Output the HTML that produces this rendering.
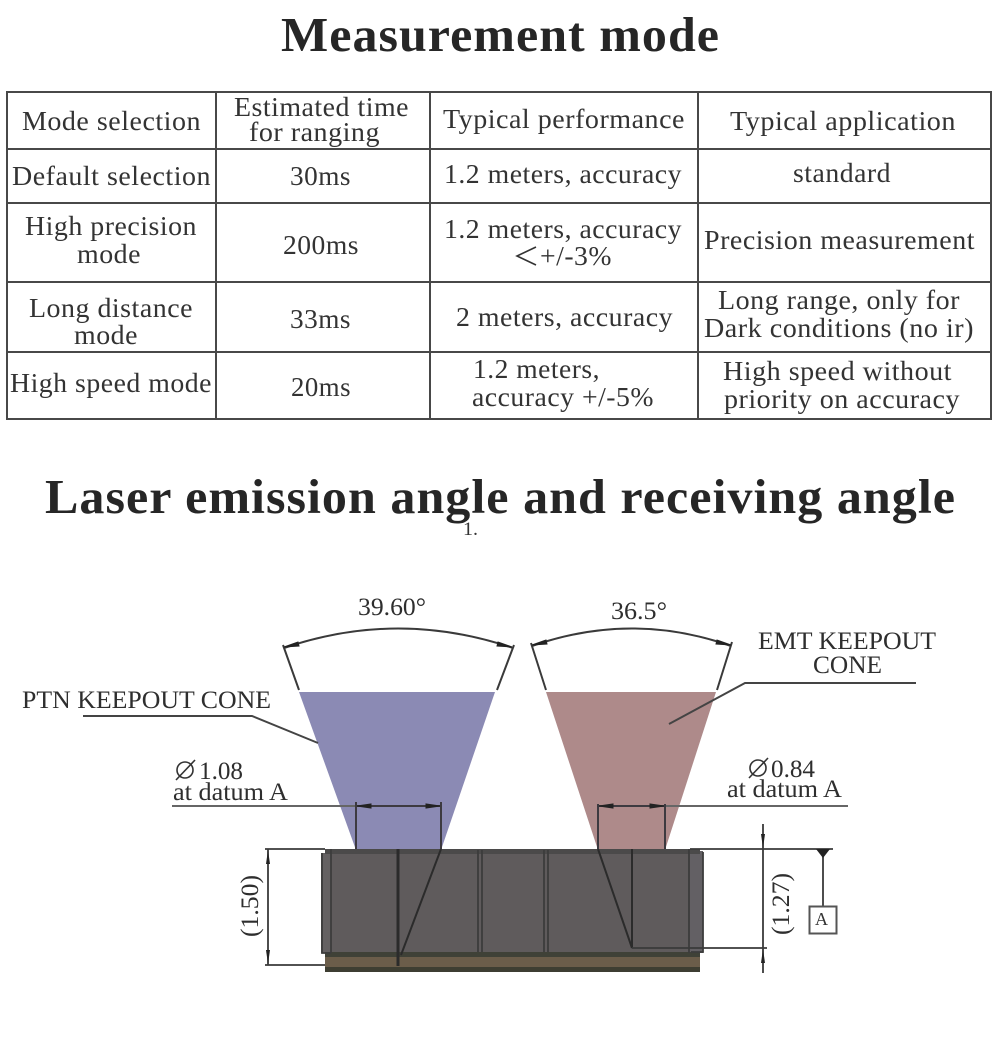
<!DOCTYPE html>
<html>
<head>
<meta charset="utf-8">
<style>
html,body{margin:0;padding:0;background:#fff}
svg{display:block}
text{font-family:"Liberation Serif",serif;fill:#333}
.t{font-size:27.5px;letter-spacing:.5px}
.d{font-size:25px;fill:#2e2e2e}
.h{font-size:49px;font-weight:bold;fill:#262626;letter-spacing:1px}
</style>
</head>
<body>
<svg width="1000" height="1041" viewBox="0 0 1000 1041" xmlns="http://www.w3.org/2000/svg">
<rect width="1000" height="1041" fill="#fff"/>
<text class="h" x="281" y="51" textLength="439" lengthAdjust="spacingAndGlyphs">Measurement mode</text>
<text class="h" x="45" y="513" textLength="911" lengthAdjust="spacingAndGlyphs">Laser emission angle and receiving angle</text>
<text x="463" y="535" style="font-size:19px" textLength="15" lengthAdjust="spacingAndGlyphs">1.</text>

<g stroke="#484848" stroke-width="2" fill="none">
<rect x="7" y="92" width="984" height="327"/>
<path d="M216 92V419M430 92V419M698 92V419M7 149H991M7 203H991M7 282H991M7 352H991"/>
</g>

<g class="tbl">
<text class="t" x="22" y="130" textLength="179" lengthAdjust="spacingAndGlyphs">Mode selection</text>
<text class="t" x="234" y="116" textLength="175" lengthAdjust="spacingAndGlyphs">Estimated time</text>
<text class="t" x="249" y="141" textLength="131" lengthAdjust="spacingAndGlyphs">for ranging</text>
<text class="t" x="443" y="128" textLength="242" lengthAdjust="spacingAndGlyphs">Typical performance</text>
<text class="t" x="730" y="130" textLength="226" lengthAdjust="spacingAndGlyphs">Typical application</text>

<text class="t" x="12" y="185" textLength="199" lengthAdjust="spacingAndGlyphs">Default selection</text>
<text class="t" x="290" y="185" textLength="61" lengthAdjust="spacingAndGlyphs">30ms</text>
<text class="t" x="444" y="183" textLength="238" lengthAdjust="spacingAndGlyphs">1.2 meters, accuracy</text>
<text class="t" x="793" y="182" textLength="98" lengthAdjust="spacingAndGlyphs">standard</text>

<text class="t" x="25" y="235" textLength="172" lengthAdjust="spacingAndGlyphs">High precision</text>
<text class="t" x="77" y="263" textLength="64" lengthAdjust="spacingAndGlyphs">mode</text>
<text class="t" x="283" y="254" textLength="76" lengthAdjust="spacingAndGlyphs">200ms</text>
<text class="t" x="444" y="238" textLength="238" lengthAdjust="spacingAndGlyphs">1.2 meters, accuracy</text>
<path d="M536 247L517 256L536 265" fill="none" stroke="#333" stroke-width="1.6"/>
<text class="t" x="540" y="265" textLength="72" lengthAdjust="spacingAndGlyphs">+/-3%</text>
<text class="t" x="704" y="249" textLength="271" lengthAdjust="spacingAndGlyphs">Precision measurement</text>

<text class="t" x="29" y="317" textLength="164" lengthAdjust="spacingAndGlyphs">Long distance</text>
<text class="t" x="74" y="344" textLength="64" lengthAdjust="spacingAndGlyphs">mode</text>
<text class="t" x="290" y="328" textLength="61" lengthAdjust="spacingAndGlyphs">33ms</text>
<text class="t" x="456" y="326" textLength="217" lengthAdjust="spacingAndGlyphs">2 meters, accuracy</text>
<text class="t" x="718" y="309" textLength="242" lengthAdjust="spacingAndGlyphs">Long range, only for</text>
<text class="t" x="704" y="337" textLength="270" lengthAdjust="spacingAndGlyphs">Dark conditions (no ir)</text>

<text class="t" x="10" y="392" textLength="202" lengthAdjust="spacingAndGlyphs">High speed mode</text>
<text class="t" x="291" y="396" textLength="60" lengthAdjust="spacingAndGlyphs">20ms</text>
<text class="t" x="473" y="378" textLength="127" lengthAdjust="spacingAndGlyphs">1.2 meters,</text>
<text class="t" x="472" y="406" textLength="182" lengthAdjust="spacingAndGlyphs">accuracy +/-5%</text>
<text class="t" x="723" y="380" textLength="229" lengthAdjust="spacingAndGlyphs">High speed without</text>
<text class="t" x="724" y="408" textLength="236" lengthAdjust="spacingAndGlyphs">priority on accuracy</text>
</g>

<!-- cones -->
<polygon points="299,692 495,692 441,850 356,850" fill="#8b8ab4"/>
<polygon points="546,692 716,692 665,850 598,850" fill="#ae8a8a"/>

<!-- angle dims -->
<g fill="none" stroke="#3a3a3a" stroke-width="2">
<path d="M283 645L299 690M514 645L497 690"/>
<path d="M284 648Q398 609 513 648"/>
<path d="M531 643L546 690M732 642L717 690"/>
<path d="M532 646Q632 611 731 646"/>
</g>
<g fill="#222" stroke="#222" stroke-width="1">
<polygon points="284,647 298,642 299,646"/>
<polygon points="512,647 498,642 497,646"/>
<polygon points="532,645 546,640 547,644"/>
<polygon points="731,645 717,640 716,644"/>
</g>
<text class="d" x="358" y="615" textLength="68" lengthAdjust="spacingAndGlyphs">39.60°</text>
<text class="d" x="611" y="619" textLength="56" lengthAdjust="spacingAndGlyphs">36.5°</text>
<text class="d" x="758" y="649" textLength="178" lengthAdjust="spacingAndGlyphs">EMT KEEPOUT</text>
<text class="d" x="813" y="673" textLength="69" lengthAdjust="spacingAndGlyphs">CONE</text>
<text class="d" x="22" y="708" textLength="249" lengthAdjust="spacingAndGlyphs">PTN KEEPOUT CONE</text>
<g fill="none" stroke="#444" stroke-width="2">
<path d="M916 683H745L669 724"/>
<path d="M83 716H252L318 743"/>
</g>

<!-- datum text -->
<g fill="none" stroke="#333" stroke-width="1.6">
<circle cx="185" cy="770" r="8"/><path d="M176 780L195 760"/>
<circle cx="758" cy="768" r="8"/><path d="M749 778L768 758"/>
</g>
<text class="d" x="199" y="779" textLength="44" lengthAdjust="spacingAndGlyphs">1.08</text>
<text class="d" x="173" y="800" textLength="115" lengthAdjust="spacingAndGlyphs">at datum A</text>
<text class="d" x="771" y="777" textLength="44" lengthAdjust="spacingAndGlyphs">0.84</text>
<text class="d" x="727" y="797" textLength="115" lengthAdjust="spacingAndGlyphs">at datum A</text>

<!-- body -->
<rect x="321" y="853" width="12" height="100" fill="#646162"/>
<rect x="331" y="849" width="360" height="104" fill="#5f5b5c"/>
<rect x="690" y="851" width="13" height="102" fill="#636064"/>
<rect x="325" y="849" width="375" height="5" fill="#4b4a4a"/>
<rect x="325" y="952" width="375" height="20" fill="#6b5d4a"/>
<rect x="325" y="952" width="375" height="5" fill="#3f4137"/>
<rect x="325" y="967" width="375" height="5" fill="#3e3e32"/>
<g fill="none" stroke="#3c3c3c">
<path d="M322 853V953H331M331 849V953" stroke-width="1.8"/>
<path d="M478 850V952M482 850V952M544 850V952M548 850V952" stroke-width="1.8"/>
<path d="M689 849V953M703 852V952H691" stroke-width="1.8"/>
</g>
<g fill="none" stroke="#2b2b2b">
<path d="M398 849V966" stroke-width="3"/>
<path d="M441 849L401 955" stroke-width="2"/>
<path d="M598 849L632 948" stroke-width="2"/>
<path d="M632 849V948" stroke-width="2"/>
</g>

<!-- width dims -->
<g fill="none" stroke="#3d3a40" stroke-width="2">
<path d="M172 806H356" stroke="#666" stroke-width="2"/>
<path d="M356 802V849M441 802V849M356 806H441"/>
<path d="M665 806H848" stroke="#666" stroke-width="2"/>
<path d="M598 804V849M665 804V849M598 806H665"/>
</g>
<g fill="#222" stroke="#222" stroke-width="1">
<polygon points="357,806 371,804 371,808"/>
<polygon points="440,806 426,804 426,808"/>
<polygon points="599,806 613,804 613,808"/>
<polygon points="664,806 650,804 650,808"/>
</g>

<!-- left height dim -->
<g fill="none" stroke="#3a3a3a" stroke-width="1.8">
<path d="M265 849H325M265 965H325M268 849V965"/>
</g>
<polygon points="268,850 266,864 270,864" fill="#222"/>
<polygon points="268,964 266,950 270,950" fill="#222"/>
<text class="d" transform="translate(258,937) rotate(-90)" x="0" y="0" textLength="62" lengthAdjust="spacingAndGlyphs">(1.50)</text>

<!-- right height dim -->
<g fill="none" stroke="#3a3a3a" stroke-width="1.8">
<path d="M690 849H833M632 948H767M763 824V973"/>
<path d="M823 850V906"/>
</g>
<polygon points="763,848 761,834 765,834" fill="#222"/>
<polygon points="763,949 761,963 765,963" fill="#222"/>
<polygon points="816,849 830,849 823,858" fill="#222"/>
<text class="d" transform="translate(789,935) rotate(-90)" x="0" y="0" textLength="62" lengthAdjust="spacingAndGlyphs">(1.27)</text>
<rect x="809.5" y="906.5" width="27" height="27" fill="#fff" stroke="#555" stroke-width="2"/>
<text x="815" y="925" style="font-size:18px">A</text>
</svg>
</body>
</html>
